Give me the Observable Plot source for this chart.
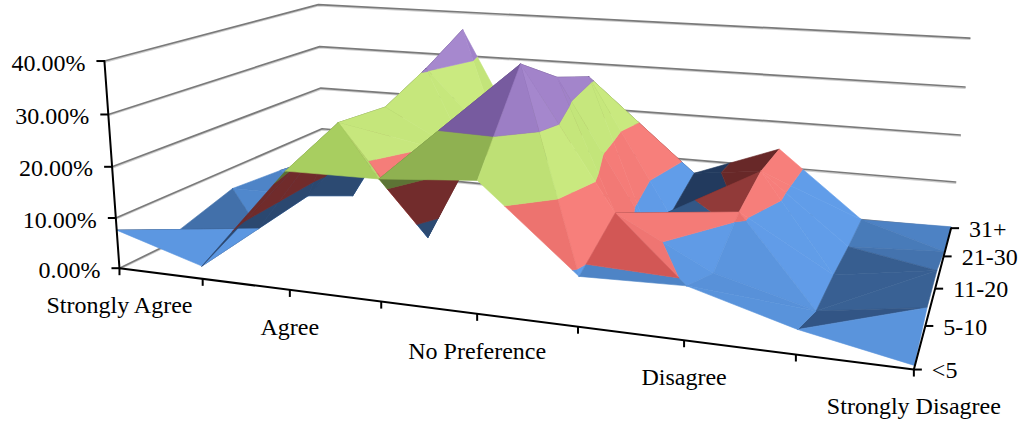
<!DOCTYPE html>
<html><head><meta charset="utf-8">
<script src="https://cdn.jsdelivr.net/npm/d3@7"></script>
<script src="https://cdn.jsdelivr.net/npm/@observablehq/plot@0.6"></script>
<style>html,body{margin:0;padding:0;background:#fff;overflow:hidden}</style>
</head><body><div id="chart"></div>
<script>
// ---------------- data (percent of respondents) ----------------
const categories = ["Strongly Agree", "", "Agree", "", "No Preference", "", "Disagree", "", "Strongly Disagree"];
const seriesLabels = ["<5", "5-10", "11-20", "21-30", "31+"];
const lt5    = [7.6, 2.5, 22.4, 22.6, 24.0, 9.0, 9.5, 4.3, 0.7];
const y5_10  = [1.9, 4.0, 27.0, 6.0, 40.5, 14.5, 5.2, 0.4, 3.3];
const y11_20 = [5.4, 5.5, 26.0, 17.0, 34.5, 7.0, 11.0, 0.5, 3.5];
const y21_30 = [4.5, 0.2, 30.5, 13.0, 31.0, 3.0, 14.0, 0.0, 1.0];
const y31p   = [3.0, 10.0, 36.0, 5.0, 20.0, 7.0, 14.0, 0.0, 0.3];
const valueTicks = [0, 10, 20, 30, 40];
const valueTickLabels = ["0.00%", "10.00%", "20.00%", "30.00%", "40.00%"];

const series = [lt5, y5_10, y11_20, y21_30, y31p];

// ---------------- 3D camera (perspective, fitted to the chart box) ----------------
const camera = [629.12544, -19.33269, 292.83025, 118.97051, 34.57626, -209.65270,
                -52.95881, 267.69961, -0.18094, -0.04118, 0.27601];
const nC = categories.length, nR = series.length, vMax = 40;
function project(X, Y, Z) {
  const p = camera, d = p[8] * X + p[9] * Y + p[10] * Z + 1;
  return [(p[0] * X + p[1] * Y + p[2] * Z + p[3]) / d, (p[4] * X + p[5] * Y + p[6] * Z + p[7]) / d, d];
}
const world = (c, r, v) => project(c / (nC - 1), v / vMax, r / (nR - 1));

// ---------------- surface: triangles, value bands, shading ----------------
const bandEdges = [-Infinity, 10, 20, 30, Infinity];
const palette = [
  {dark: [34, 58, 94],  mid: [80, 136, 204],  light: [98, 158, 234], under: [42, 70, 108]},   // 0-10 blue
  {dark: [104, 40, 40], mid: [216, 90, 87],   light: [248, 128, 124], under: [108, 42, 42]},  // 10-20 red
  {dark: [96, 124, 54], mid: [168, 206, 96],  light: [202, 234, 128], under: [88, 110, 50]},  // 20-30 green
  {dark: [84, 62, 120], mid: [138, 106, 180], light: [166, 136, 206], under: [80, 60, 110]}   // 30-40 purple
];
const norm = v => { const l = Math.hypot(...v); return v.map(x => x / l); };
const L = norm([0.85, 0.5, -0.15]);
const lerp = (a, b, t) => a.map((x, i) => Math.round(x + (b[i] - x) * t));
const rgb = c => `rgb(${c[0]},${c[1]},${c[2]})`;
function bandColor(k, b, under) {
  const p = palette[k];
  if (under) return rgb(p.under.map(x => Math.round(x * (0.92 + 0.2 * b))));
  return rgb(b < 0.5 ? lerp(p.dark, p.mid, Math.max(0, b) / 0.5) : lerp(p.mid, p.light, Math.min(1, (b - 0.5) / 0.5)));
}
function clip(poly, lo, hi) {
  const cut = (pts, keep, t) => {
    const out = [];
    for (let i = 0; i < pts.length; i++) {
      const a = pts[i], b = pts[(i + 1) % pts.length], ia = keep(a[2]), ib = keep(b[2]);
      if (ia) out.push(a);
      if (ia !== ib) { const f = (t - a[2]) / (b[2] - a[2]); out.push([a[0] + f * (b[0] - a[0]), a[1] + f * (b[1] - a[1]), t]); }
    }
    return out;
  };
  let p = poly;
  if (isFinite(lo)) p = cut(p, v => v >= lo, lo);
  if (p.length && isFinite(hi)) p = cut(p, v => v <= hi, hi);
  return p;
}
const area = q => (q[1][0] - q[0][0]) * (q[2][1] - q[0][1]) - (q[1][1] - q[0][1]) * (q[2][0] - q[0][0]);

// each grid cell is split along the diagonal whose two corners have the larger sum
const tris = [];
for (let r = 0; r < nR - 1; r++) for (let c = 0; c < nC - 1; c++) {
  const A = [c, r, series[r][c]], B = [c + 1, r, series[r][c + 1]];
  const C = [c, r + 1, series[r + 1][c]], D = [c + 1, r + 1, series[r + 1][c + 1]];
  if (A[2] + D[2] >= B[2] + C[2]) tris.push([A, B, D], [A, D, C]);
  else tris.push([A, B, C], [B, D, C]);
}
const shaded = tris.map(t => {
  const P = t.map(([c, r, v]) => [c, v / 10, r]);
  const u = P[1].map((x, i) => x - P[0][i]), w = P[2].map((x, i) => x - P[0][i]);
  let n = [u[1] * w[2] - u[2] * w[1], u[2] * w[0] - u[0] * w[2], u[0] * w[1] - u[1] * w[0]];
  if (n[1] < 0) n = n.map(x => -x);
  n = norm(n);
  const scr = t.map(([c, r, v]) => world(c, r, v)), flo = t.map(([c, r]) => world(c, r, 0));
  const under = area(scr) * area(flo) < 0;
  const dot = n[0] * L[0] + n[1] * L[1] + n[2] * L[2];
  return {t, under, b: under ? Math.max(0, -dot) : dot, depth: d3.mean(scr, s => s[2])};
}).sort((a, b) => b.depth - a.depth);

const surface = [];
let pid = 0;
for (const {t, b, under} of shaded) {
  for (let k = 0; k < 4; k++) {
    const poly = clip(t, bandEdges[k], bandEdges[k + 1]);
    if (poly.length < 3) continue;
    const col = bandColor(k, b, under), id = pid++;
    for (const q of [...poly, poly[0]]) {
      const [x, y] = world(q[0], q[1], q[2]);
      surface.push({id, x, y, col});
    }
  }
}

// ---------------- walls' gridlines, axes, ticks, labels ----------------
const grid = valueTicks.flatMap(v => [[0, 0, v], [0, nR - 1, v], [nC - 1, nR - 1, v]].map(([c, r, vv]) => {
  const [x, y] = world(c, r, vv); return {g: v, x, y};
}));
const axes = [
  [[0, 0, 0], [nC - 1, 0, 0]], [[nC - 1, 0, 0], [nC - 1, nR - 1, 0]], [[0, 0, 0], [0, 0, vMax]]
].flatMap((seg, i) => seg.map(([c, r, v]) => { const [x, y] = world(c, r, v); return {a: i, x, y}; }));
const valueAxis = valueTicks.map((v, i) => { const [x, y] = world(0, 0, v); return {x, y, label: valueTickLabels[i]}; });
const catAxis = categories.map((label, c) => { const [x, y] = world(c, 0, 0); return {x, y, label}; });
const depthAxis = seriesLabels.map((label, r) => { const [x, y] = world(nC - 1, r, 0); return {x, y, label}; });

const font = "'Liberation Serif', 'Times New Roman', serif";
const chart = Plot.plot({
  width: 1024, height: 429, margin: 0,
  x: {domain: [0, 1024], range: [0, 1024], axis: null},
  y: {domain: [0, 429], range: [0, 429], axis: null},
  color: {type: "identity"},
  marks: [
    Plot.line(grid, {x: "x", y: "y", z: "g", dy: 1.2, stroke: "#cfcfcf", strokeWidth: 1.4}),
    Plot.line(grid, {x: "x", y: "y", z: "g", stroke: "#7a7a7a", strokeWidth: 1.7}),
    Plot.line(surface, {x: "x", y: "y", z: "id", fill: "col", stroke: "col", strokeWidth: 0.6, strokeLinejoin: "round"}),
    Plot.line(axes, {x: "x", y: "y", z: "a", stroke: "black", strokeWidth: 2}),
    Plot.link(valueAxis, {x1: "x", y1: "y", x2: d => d.x - 8, y2: "y", stroke: "black", strokeWidth: 2}),
    Plot.link(catAxis, {x1: "x", y1: "y", x2: "x", y2: d => d.y + 7, stroke: "black", strokeWidth: 2}),
    Plot.link(depthAxis, {x1: "x", y1: "y", x2: d => d.x + 8, y2: "y", stroke: "black", strokeWidth: 2}),
    Plot.text(valueAxis, {x: "x", y: "y", text: "label", textAnchor: "end", lineAnchor: "middle", dx: -19, dy: 2, fontSize: 24, fontFamily: font, fill: "black"}),
    Plot.text(catAxis.filter(d => d.label), {x: "x", y: "y", text: "label", textAnchor: "middle", lineAnchor: "middle", dy: 37, fontSize: 24, fontFamily: font, fill: "black"}),
    Plot.text(depthAxis, {x: "x", y: "y", text: "label", textAnchor: "start", lineAnchor: "middle", dx: 18, dy: 1, fontSize: 24, fontFamily: font, fill: "black"})
  ]
});
document.getElementById("chart").append(chart);
</script></body></html>
